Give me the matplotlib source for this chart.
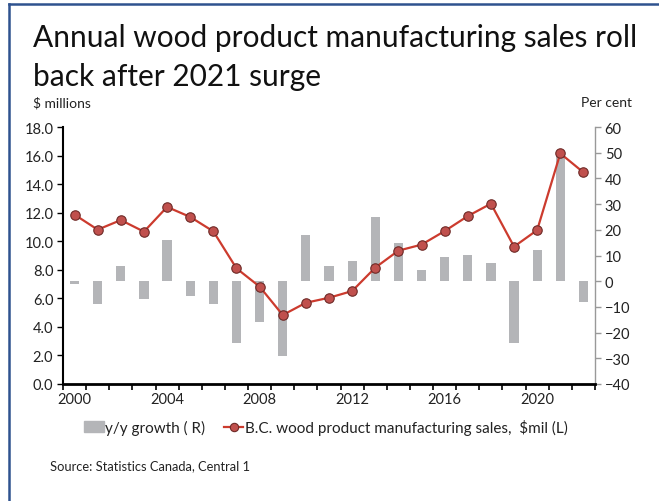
import matplotlib
matplotlib.use("Agg")
import matplotlib.pyplot as plt
from matplotlib.lines import Line2D
from matplotlib.patches import Patch

plt.rcParams["font.family"] = ["Lato", "DejaVu Sans"]

years = list(range(2000, 2023))
sales = [11.86, 10.81, 11.48, 10.67, 12.40, 11.70, 10.69, 8.10, 6.82, 4.83,
         5.69, 6.04, 6.51, 8.15, 9.34, 9.76, 10.71, 11.76, 12.63, 9.62,
         10.78, 16.15, 14.82]
growth = [-1.0, -8.8, 6.1, -6.8, 16.0, -5.6, -8.7, -24.2, -16.0, -29.1,
          17.8, 6.1, 7.7, 24.8, 14.8, 4.4, 9.6, 10.1, 7.1, -24.0,
          12.2, 49.0, -8.2]
year_labels = [2000, 2004, 2008, 2012, 2016, 2020]
title_lines = ["Annual wood product manufacturing sales roll", "back after 2021 surge"]

bar_color = "#b4b5b8"
line_color = "#cc3b2e"
text_color = "#222222"

fig = plt.figure(figsize=(6.59, 5.02), dpi=100)
ax = fig.add_axes([63 / 659, 1 - 385 / 502, 532 / 659, 257 / 502])
ax2 = ax.twinx()

# bars on the right axis, line on the left axis drawn above them
ax2.bar(years, growth, width=0.4, color=bar_color, zorder=2)
ax.plot(years, sales, color=line_color, lw=1.6, marker="o", ms=6.8,
        mfc="#c0504d", mec="#6e2a27", mew=0.8, zorder=3)
ax.set_zorder(ax2.get_zorder() + 1)
ax.patch.set_visible(False)

ax.set_xlim(1999.5, 2022.5)
ax.set_ylim(0, 18)
ax.set_yticks([i * 2.0 for i in range(10)])
ax.set_yticklabels([f"{i * 2.0:.1f}" for i in range(10)])
ax2.set_ylim(-40, 60)
ax2.set_yticks(range(-40, 61, 10))

# tick marks between years, labels centred on the years
ax.set_xticks([y - 0.5 for y in years] + [2022.5])
ax.set_xticklabels([])
ax.set_xticks(year_labels, minor=True)
ax.set_xticklabels([str(y) for y in year_labels], minor=True)
ax.tick_params(axis="x", which="major", length=4, width=1.2, color="black")
ax.tick_params(axis="x", which="minor", length=0, pad=6, labelsize=10.5,
               labelcolor=text_color)
ax.tick_params(axis="y", length=4, width=1.0, labelsize=10.5,
               labelcolor=text_color, pad=3)
ax2.tick_params(axis="y", length=4, width=1.0, color="#999999",
                labelsize=10.5, labelcolor=text_color, pad=3)

for s in ["top", "right"]:
    ax.spines[s].set_visible(False)
ax.spines["left"].set_linewidth(1.5)
ax.spines["bottom"].set_linewidth(2.0)
for s in ["top", "left", "bottom"]:
    ax2.spines[s].set_visible(False)
ax2.spines["right"].set_color("#999999")
ax2.spines["right"].set_linewidth(1.0)

fig.text(33 / 659, 1 - 47 / 502, title_lines[0], fontsize=21.5, color="#111111", va="baseline")
fig.text(33 / 659, 1 - 86 / 502, title_lines[1], fontsize=21.5, color="#111111", va="baseline")
fig.text(33 / 659, 1 - 103 / 502, "$ millions", fontsize=10, color=text_color, va="center")
fig.text(632 / 659, 1 - 103 / 502, "Per cent", fontsize=10, color=text_color,
         va="center", ha="right")

handles = [Patch(color=bar_color),
           Line2D([], [], color=line_color, lw=1.6, marker="o", ms=6,
                  mfc="#c0504d", mec="#6e2a27", mew=0.8)]
labels = ["y/y growth ( R)", "B.C. wood product manufacturing sales,  $mil (L)"]
fig.legend(handles, labels, loc="center left", bbox_to_anchor=(70 / 659, 1 - 428 / 502),
           ncol=2, frameon=False, fontsize=11, handlelength=1.3, handletextpad=0.1,
           columnspacing=1.2, labelcolor=text_color)

fig.text(50 / 659, 1 - 466 / 502, "Source: Statistics Canada, Central 1",
         fontsize=9.3, color=text_color, va="center")

# blue frame around the chart
fig.add_artist(Line2D([9 / 659, 9 / 659], [0, 1 - 5 / 502], color="#2f528f", lw=1.8))
fig.add_artist(Line2D([9 / 659, 1], [1 - 5 / 502, 1 - 5 / 502], color="#2f528f", lw=1.8))

fig.savefig("out.png", dpi=100)
